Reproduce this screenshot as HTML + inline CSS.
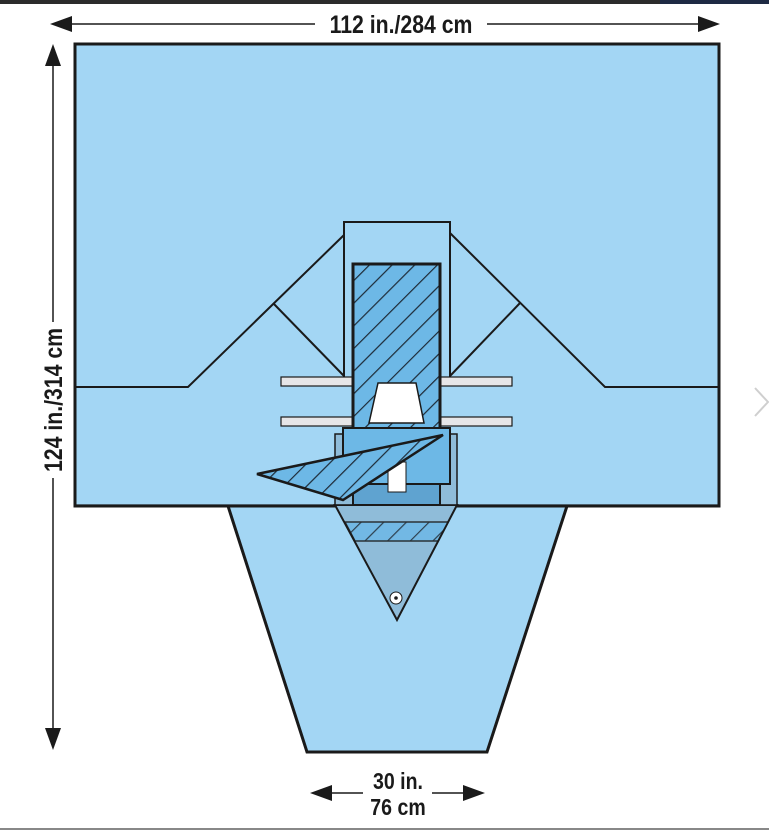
<!DOCTYPE html>
<html><head><meta charset="utf-8"><style>
html,body{margin:0;padding:0;background:#fff;width:769px;height:832px;overflow:hidden}
svg{display:block}
text{font-family:"Liberation Sans Narrow","Liberation Sans",sans-serif;font-weight:bold;fill:#1a1a1a}
</style></head><body>
<svg width="769" height="832" viewBox="0 0 769 832" xmlns="http://www.w3.org/2000/svg">
<defs>
<pattern id="h" patternUnits="userSpaceOnUse" width="16" height="16" patternTransform="rotate(45)">
<rect width="16" height="16" fill="#6db8e6"/>
<line x1="0" y1="0" x2="0" y2="16" stroke="#1d2a36" stroke-width="2.4"/>
</pattern>
</defs>
<rect x="0" y="0" width="769" height="4" fill="#2b2b2b"/>
<rect x="660" y="0" width="109" height="4" fill="#1e2a44"/>
<!-- top dimension -->
<line x1="70" y1="24" x2="315" y2="24" stroke="#1a1a1a" stroke-width="1.5"/>
<line x1="487" y1="24" x2="700" y2="24" stroke="#1a1a1a" stroke-width="1.5"/>
<polygon points="50,24 72,16 72,32" fill="#1a1a1a"/>
<polygon points="720,24 698,16 698,32" fill="#1a1a1a"/>
<text transform="translate(401,33) scale(0.85,1)" font-size="25" text-anchor="middle">112 in./284 cm</text>
<!-- left dimension -->
<line x1="53" y1="62" x2="53" y2="322" stroke="#1a1a1a" stroke-width="1.5"/>
<line x1="53" y1="478" x2="53" y2="730" stroke="#1a1a1a" stroke-width="1.5"/>
<polygon points="53,44 45,66 61,66" fill="#1a1a1a"/>
<polygon points="53,750 45,728 61,728" fill="#1a1a1a"/>
<text transform="translate(62,400) rotate(-90) scale(0.85,1)" font-size="25" text-anchor="middle">124 in./314 cm</text>
<!-- main drape -->
<polygon points="228,506 567,506 487,752 307,752" fill="#a3d6f4" stroke="#1a1a1a" stroke-width="3"/>
<rect x="75" y="44" width="644" height="462" fill="#a3d6f4" stroke="#1a1a1a" stroke-width="3"/>
<!-- folds -->
<polyline points="75,387 188,387 344,235" fill="none" stroke="#1a1a1a" stroke-width="2"/>
<polyline points="719,387 605,387 450,233" fill="none" stroke="#1a1a1a" stroke-width="2"/>
<line x1="273" y1="303" x2="344" y2="376" stroke="#1a1a1a" stroke-width="2"/>
<line x1="520" y1="303" x2="450" y2="376" stroke="#1a1a1a" stroke-width="2"/>
<polyline points="344,377 344,222 450,222 450,377" fill="#a3d6f4" stroke="#1a1a1a" stroke-width="2"/>
<!-- bars -->
<rect x="281" y="377" width="72" height="9" fill="#e6e6e8" stroke="#1a1a1a" stroke-width="1.2"/>
<rect x="440" y="377" width="72" height="9" fill="#e6e6e8" stroke="#1a1a1a" stroke-width="1.2"/>
<rect x="281" y="417" width="72" height="9" fill="#e6e6e8" stroke="#1a1a1a" stroke-width="1.2"/>
<rect x="440" y="417" width="72" height="9" fill="#e6e6e8" stroke="#1a1a1a" stroke-width="1.2"/>
<!-- hatched column -->
<rect x="353" y="264" width="87" height="166" fill="url(#h)" stroke="#1a1a1a" stroke-width="3"/>
<polygon points="378,383 416,383 424,423 369,423" fill="#fff" stroke="#1a1a1a" stroke-width="1.5"/>
<!-- lower triangle -->
<polygon points="335,505 457,505 397,620" fill="#8fbcd9" stroke="#1a1a1a" stroke-width="2"/>
<polygon points="345,522 448,522 438,541 355,541" fill="url(#h)" stroke="#1a1a1a" stroke-width="1.5" opacity="0.85"/>
<circle cx="396" cy="598" r="6" fill="#fff" stroke="#1a1a1a" stroke-width="1"/>
<circle cx="396" cy="598" r="1.8" fill="#1a1a1a"/>
<!-- block -->
<rect x="335" y="434" width="122" height="71" fill="#8fbcd9" stroke="#1a1a1a" stroke-width="1.5"/>
<rect x="353" y="484" width="87" height="21" fill="#5fa3d0" stroke="#1a1a1a" stroke-width="2"/>
<rect x="343" y="428" width="107" height="56" fill="#6db8e6" stroke="#1a1a1a" stroke-width="2"/>
<rect x="388" y="462" width="18" height="30" fill="#fff" stroke="#1a1a1a" stroke-width="1"/>
<line x1="75" y1="505" x2="719" y2="505" stroke="#1a1a1a" stroke-width="1.2"/>
<!-- flap -->
<polygon points="257,474 443,435 343,500" fill="url(#h)" stroke="#1a1a1a" stroke-width="2.5"/>
<!-- bottom dimension -->
<line x1="330" y1="793" x2="363" y2="793" stroke="#1a1a1a" stroke-width="1.5"/>
<line x1="432" y1="793" x2="465" y2="793" stroke="#1a1a1a" stroke-width="1.5"/>
<polygon points="310,793 332,785 332,801" fill="#1a1a1a"/>
<polygon points="485,793 463,785 463,801" fill="#1a1a1a"/>
<text transform="translate(398,789) scale(0.85,1)" font-size="23" text-anchor="middle">30 in.</text>
<text transform="translate(398,815) scale(0.85,1)" font-size="23" text-anchor="middle">76 cm</text>
<!-- chevron -->
<polyline points="755,388 768,402 755,416" fill="none" stroke="#cfcfcf" stroke-width="2"/>
<line x1="0" y1="829" x2="769" y2="829" stroke="#888" stroke-width="2"/>
</svg>
</body></html>
